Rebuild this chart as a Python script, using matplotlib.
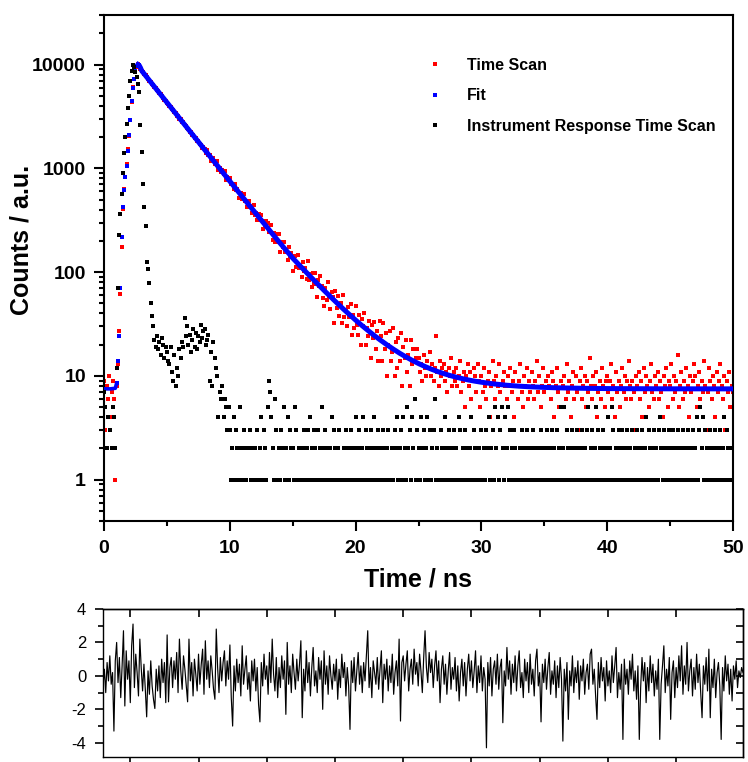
import numpy as np
import matplotlib
matplotlib.use("Agg")
import matplotlib.pyplot as plt
from matplotlib.lines import Line2D
from matplotlib.ticker import LogLocator, NullFormatter, MultipleLocator, FixedLocator, FixedFormatter

plt.rcParams['font.family'] = ['Liberation Sans', 'DejaVu Sans']
plt.rcParams['axes.unicode_minus'] = False

# ---------------- data ----------------
CHANNEL_NS = 0.1          # channel width of the decay histograms

time_scan_counts = [
    9, 3, 8, 6, 10, 4, 7, 9, 6, 1,
    8, 13, 27, 62, 175, 410, 630, 820, 1090, 1520,
    2060, 2950, 4380, 6050, 7250, 8750, 9550, 10050, 9700, 9150,
    8650, 8420, 8060, 7870, 7510, 7330, 6990, 6850, 6520, 6380,
    6080, 5950, 5660, 5540, 5290, 5180, 4920, 4810, 4570, 4500,
    4270, 4200, 3970, 3920, 3700, 3660, 3450, 3400, 3210, 3170,
    2990, 2960, 2790, 2770, 2600, 2580, 2420, 2400, 2250, 2240,
    2100, 2090, 1950, 1950, 1820, 1830, 1700, 1690, 1580, 1590,
    1527, 1398, 1498, 1336, 1354, 1173, 1230, 1246, 1107, 1095,
    1167, 966, 1018, 921, 969, 879, 942, 767, 831, 774,
    800, 701, 708, 630, 705, 623, 637, 521, 582, 580,
    504, 571, 479, 479, 420, 481, 426, 430, 375, 448,
    356, 372, 319, 360, 317, 353, 262, 310, 284, 312,
    298, 241, 245, 287, 204, 237, 197, 231, 196, 231,
    157, 196, 175, 193, 155, 164, 132, 175, 140, 152,
    102, 139, 143, 112, 147, 109, 114, 89, 124, 102,
    109, 85, 127, 84, 95, 72, 97, 77, 98, 57,
    84, 73, 91, 74, 56, 47, 70, 54, 81, 59,
    44, 64, 57, 32, 66, 45, 59, 38, 50, 32,
    60, 37, 43, 30, 46, 37, 49, 25, 39, 29,
    47, 31, 25, 39, 20, 35, 30, 40, 20, 29,
    24, 34, 15, 31, 23, 33, 18, 27, 14, 34,
    24, 14, 32, 18, 26, 10, 20, 27, 14, 17,
    29, 10, 21, 12, 23, 14, 26, 8, 19, 15,
    22, 11, 16, 8, 22, 13, 18, 6, 15, 18,
    15, 11, 13, 9, 16, 12, 10, 14, 12, 17,
    10, 13, 9, 12, 24, 11, 8, 14, 10, 12,
    13, 9, 11, 7, 12, 10, 15, 8, 11, 9,
    12, 8, 10, 14, 7, 9, 11, 5, 10, 13,
    8, 11, 6, 9, 12, 10, 7, 13, 9, 5,
    10, 7, 12, 8, 6, 9, 11, 4, 8, 14,
    9, 6, 10, 8, 13, 7, 5, 9, 11, 8,
    6, 10, 8, 12, 7, 9, 4, 11, 8, 6,
    9, 13, 7, 5, 10, 8, 12, 6, 9, 7,
    11, 8, 6, 9, 14, 7, 10, 5, 8, 12,
    7, 9, 3, 10, 8, 6, 11, 9, 4, 8,
    12, 7, 5, 9, 2, 8, 10, 6, 13, 7,
    9, 4, 8, 11, 6, 10, 7, 3, 9, 12,
    6, 8, 10, 5, 9, 7, 15, 8, 6, 10,
    8, 11, 4, 7, 9, 6, 12, 8, 5, 9,
    10, 7, 9, 13, 6, 8, 4, 11, 7, 9,
    5, 8, 12, 7, 10, 6, 9, 14, 8, 6,
    9, 7, 3, 10, 8, 11, 6, 9, 4, 12,
    7, 10, 8, 5, 9, 13, 7, 6, 10, 8,
    11, 6, 9, 7, 4, 10, 8, 12, 5, 9,
    8, 13, 6, 10, 7, 9, 16, 5, 8, 11,
    6, 9, 7, 12, 8, 4, 10, 7, 9, 13,
    10, 5, 8, 11, 6, 9, 7, 14, 8, 3,
    7, 12, 9, 6, 10, 8, 4, 11, 7, 9,
    13, 8, 6, 10, 3, 9, 7, 11, 5, 8,
    7,
]

irf_counts = [
    7, 5, 2, 4, 0, 3, 2, 5, 4, 2,
    12, 70, 230, 360, 560, 900, 1400, 2000, 2700, 3800,
    5000, 7000, 8700, 10000, 9400, 8500, 7500, 6500, 5400, 2600,
    1450, 700, 420, 280, 125, 108, 78, 50, 38, 30,
    22, 19, 24, 18, 21, 16, 23, 20, 15, 19,
    17, 14, 13, 19, 11, 9, 16, 8, 12, 10,
    18, 15, 21, 19, 36, 24, 30, 20, 25, 17,
    22, 28, 19, 26, 18, 24, 21, 31, 23, 27,
    28, 20, 22, 25, 9, 17, 8, 21, 15, 12,
    10, 4, 7, 6, 8, 4, 6, 5, 3, 5,
    3, 1, 2, 4, 1, 3, 2, 1, 5, 2,
    1, 3, 2, 1, 0, 2, 3, 1, 2, 1,
    2, 1, 3, 1, 2, 4, 1, 3, 2, 1,
    5, 9, 7, 4, 2, 1, 6, 3, 1, 2,
    1, 3, 2, 5, 1, 2, 4, 1, 3, 2,
    2, 1, 5, 3, 1, 2, 0, 1, 2, 3,
    1, 2, 3, 1, 4, 2, 1, 3, 2, 1,
    3, 1, 2, 5, 1, 2, 3, 1, 2, 1,
    2, 4, 1, 3, 2, 1, 2, 3, 1, 0,
    1, 2, 3, 1, 2, 1, 3, 2, 1, 2,
    4, 1, 2, 3, 1, 2, 4, 1, 3, 2,
    1, 2, 3, 1, 2, 4, 1, 2, 3, 1,
    2, 1, 3, 2, 1, 2, 3, 1, 0, 2,
    1, 3, 2, 4, 1, 2, 3, 1, 4, 2,
    1, 5, 2, 3, 1, 4, 2, 6, 1, 3,
    2, 1, 4, 2, 3, 1, 2, 4, 1, 3,
    1, 2, 3, 6, 1, 2, 0, 1, 3, 2,
    1, 4, 2, 1, 3, 2, 1, 2, 3, 1,
    2, 1, 4, 3, 1, 2, 1, 3, 2, 1,
    1, 2, 4, 1, 3, 2, 1, 0, 2, 1,
    3, 1, 2, 1, 3, 2, 4, 1, 2, 3,
    1, 5, 2, 4, 1, 3, 5, 2, 1, 4,
    2, 5, 1, 3, 2, 1, 3, 2, 1, 0,
    1, 2, 3, 1, 2, 1, 3, 2, 1, 2,
    1, 3, 2, 1, 0, 2, 1, 3, 2, 1,
    2, 1, 3, 2, 1, 2, 3, 1, 2, 1,
    3, 1, 2, 5, 1, 2, 5, 1, 3, 2,
    1, 2, 3, 1, 2, 1, 3, 2, 1, 2,
    3, 1, 2, 1, 3, 5, 1, 2, 3, 1,
    2, 5, 1, 3, 2, 1, 2, 3, 1, 2,
    1, 4, 2, 1, 5, 3, 1, 2, 1, 3,
    2, 1, 3, 2, 1, 2, 3, 1, 2, 1,
    3, 1, 2, 1, 3, 2, 1, 2, 3, 1,
    2, 4, 1, 3, 2, 1, 2, 3, 1, 2,
    1, 3, 4, 2, 1, 3, 2, 1, 2, 3,
    1, 2, 3, 1, 2, 1, 3, 2, 1, 2,
    3, 1, 2, 1, 3, 2, 1, 2, 3, 1,
    2, 4, 1, 3, 5, 2, 4, 1, 3, 2,
    1, 2, 3, 1, 2, 1, 3, 2, 1, 2,
    3, 1, 2, 4, 1, 3, 2, 1, 2, 1,
    2,
]

fit_time_ns = [
    0.0, 0.5, 0.9, 1.0, 1.1, 1.2, 1.3, 1.4, 1.5, 1.6, 1.7, 1.8, 1.9, 2.0,
    2.1, 2.2, 2.3, 2.4, 2.5, 2.6, 2.7, 2.8, 2.9, 3.0,
    3.5, 4.0, 4.5, 5.0, 5.5, 6.0, 6.5, 7.0, 7.5, 8.0, 8.5, 9.0, 9.5, 10.0,
    10.5, 11.0, 11.5, 12.0, 12.5, 13.0, 13.5, 14.0, 14.5, 15.0, 15.5, 16.0,
    16.5, 17.0, 17.5, 18.0, 18.5, 19.0, 19.5, 20.0, 20.5, 21.0, 21.5, 22.0,
    22.5, 23.0, 23.5, 24.0, 24.5, 25.0, 25.5, 26.0, 26.5, 27.0, 27.5, 28.0,
    28.5, 29.0, 29.5, 30.0, 31.0, 32.0, 33.0, 34.0, 35.0, 36.0, 38.0, 40.0,
    42.0, 45.0, 50.0,
]
fit_counts = [
    7.5, 7.5, 7.6, 8.5, 14, 24, 70, 220, 420, 620, 820, 1050, 1480, 2100,
    2900, 4500, 6000, 7300, 8700, 9600, 10000, 9800, 9300, 8698,
    7300, 6126, 5142, 4316, 3622, 3040, 2552, 2143, 1800, 1511, 1269, 1066, 895, 752,
    633, 532, 447, 377, 317, 267, 225, 190, 161, 136.5, 117.8, 101.9,
    88.2, 76.5, 66.5, 58.0, 50.7, 44.4, 39.1, 34.5, 30.6, 27.3, 24.4, 22.0,
    19.9, 18.1, 16.55, 15.24, 14.12, 13.16, 12.34, 11.64, 11.04, 10.53, 10.09, 9.72,
    9.40, 9.12, 8.89, 8.69, 8.37, 8.13, 7.96, 7.84, 7.75, 7.68, 7.6, 7.55,
    7.53, 7.51, 7.5,
]

RESID_START_NS = 3.0
residuals = [
    -0.6, 0.4, -1.0, 0.8, -0.3, 1.2, -0.5, 0.2, -3.3, 0.9,
    2.0, -0.4, 1.1, -1.3, 0.6, 2.7, -1.8, 1.5, -0.2, 0.9,
    -1.6, 1.8, 3.1, -0.7, 1.3, 0.2, -1.2, 2.2, 0.5, -0.9,
    0.7, -0.8, -2.45, 0.3, -1.1, 0.9, -0.6, -1.4, -1.95, 0.4,
    -0.9, 0.6, -1.3, 1.0, -0.4, 0.8, -1.6, 2.45, -1.55, 0.5,
    1.1, -0.7, 0.9, -0.2, 1.4, -1.0, 2.2, 0.3, -0.8, 1.2,
    0.4, -0.6, -1.55, 2.2, -0.3, 0.8, -1.2, 1.0, 0.1, -0.9,
    1.3, -0.5, 0.7, 1.6, -1.1, 2.1, -0.2, 0.9, -0.7, 1.2,
    0.3, -0.8, -1.4, 2.8, 0.5, -1.0, 1.1, -0.3, 0.8, 1.5,
    -0.6, 0.9, -0.2, 1.85, -1.3, -3.0, 0.6, -0.9, 1.0, -0.4,
    0.7, -1.2, 1.8, -0.5, 0.4, 1.2, -0.8, 0.2, -1.5, 0.9,
    -0.3, 1.0, -0.9, 0.5, -1.7, -2.75, 0.8, -0.6, 1.3, -0.2,
    0.6, -1.1, 1.4, -0.4, 2.2, 0.1, -0.9, 1.1, -1.3, 0.5,
    -0.7, 1.2, -0.2, 0.9, -2.3, 2.0, -0.5, 0.6, -1.0, 1.3,
    0.2, -0.8, 1.0, -0.3, 0.7, 2.1, -2.5, 0.4, -0.9, 1.5,
    -0.4, 0.8, -1.2, 0.5, 1.7, -0.6, 0.3, -1.0, 1.1, -0.2,
    0.9, -2.0, 1.5, -0.5, 0.6, -1.1, 1.2, 0.0, -0.8, 0.7,
    -0.3, 1.0, -1.4, 0.4, -0.7, 1.3, -0.1, 0.8, -1.2, 0.5,
    -0.6, -3.2, 0.9, -0.4, 1.1, -0.9, 0.3, 1.4, -0.5, 0.6,
    -1.0, 0.8, -0.3, 1.2, 2.7, -0.7, 0.5, -1.3, 0.9, 0.2,
    -0.5, 1.1, -0.8, 0.4, 1.5, -1.6, 0.7, -0.2, 1.0, -0.9,
    0.6, -0.4, 1.3, -1.1, 0.2, 0.9, -0.6, 2.2, -2.7, 0.8,
    1.2, -0.3, 0.7, 1.5, -0.9, 0.4, 1.0, -0.5, 1.6, 0.1,
    0.8, -0.6, 1.3, 0.3, -1.0, 1.1, 2.7, 0.5, -0.4, 1.4,
    0.2, 1.0, -0.7, 0.6, 1.5, -0.3, 0.9, -1.6, 0.4, 1.2,
    -0.5, 0.7, -1.1, 0.3, 1.4, -0.8, 0.5, -0.2, 1.1, -0.9,
    0.6, -1.5, 0.2, 1.0, -0.6, 0.8, -1.2, 0.4, 1.3, -0.3,
    0.9, -0.7, 0.3, 1.5, -1.0, 0.6, -0.4, 1.2, -0.9, 0.5,
    -0.2, -4.3, 0.8, -0.6, 1.1, -1.2, 0.4, 0.9, -0.5, 1.3,
    -0.8, 0.5, 1.0, -2.8, 0.3, -0.6, 1.7, -0.2, 0.9, -1.1,
    0.7, -0.4, 1.2, -0.9, 0.6, 1.5, -0.7, 0.2, -1.3, 1.0,
    -0.3, 0.8, -1.0, 1.3, -0.5, 0.4, -1.2, 0.9, 1.6, -0.6,
    0.2, -2.75, 0.7, -0.4, 1.0, -0.8, 0.5, 1.4, -1.1, 0.3,
    -0.5, 0.9, -1.3, 0.6, -0.7, 1.1, -0.2, -3.9, 0.4, -0.9,
    0.8, -2.6, 0.3, -0.6, 1.2, -1.0, 0.5, -0.4, 0.9, -1.4,
    0.6, -0.3, 1.0, -1.1, 0.2, 0.7, -0.8, 1.3, 1.6, -0.5,
    0.4, -1.2, -2.6, 0.8, -0.7, 1.1, -0.3, 0.5, -1.5, 0.9,
    -0.6, 0.3, -1.0, 1.2, -0.4, 0.6, 1.7, -1.3, 0.2, -0.8,
    0.7, -3.8, 1.0, -0.5, 0.4, -1.1, 0.9, -0.2, 1.3, -0.9,
    0.3, -1.4, 0.6, -3.8, -0.7, 1.1, -0.3, 0.8, -1.6, 0.5,
    -0.9, 1.2, -0.4, 0.7, -1.2, 0.3, -0.8, 1.0, -3.8, -0.5,
    0.6, 1.8, -1.0, 0.4, -0.6, 1.1, -2.6, 0.2, 0.9, -1.3,
    0.5, -0.7, 1.2, -0.3, 1.8, -1.1, 0.6, -0.5, 2.0, -0.9,
    0.3, 1.0, -1.2, 0.5, -0.8, 1.3, -0.4, 0.7, -1.0, -2.5,
    0.6, -0.5, 1.1, -0.9, 1.6, -2.5, 0.4, -0.7, 1.0, -1.3,
    0.2, 0.8, -0.6, -3.8, 0.5, -0.9, 1.2, -0.3, 0.7, -1.1,
    0.4, -1.5, 0.6, -0.2, 0.9, -0.7, 0.3, -0.1, 0.5, 0.2,
]

legend_labels = ["Time Scan", "Fit", "Instrument Response Time Scan"]
series_colors = ["#ff0000", "#0000ff", "#000000"]
x_ticks = [0, 10, 20, 30, 40, 50]
y_ticks = [1, 10, 100, 1000, 10000]
y_tick_labels = ["1", "10", "100", "1000", "10000"]
resid_y_ticks = [-4, -2, 0, 2, 4]

# ---------------- figure ----------------
W, H = 748, 762
fig = plt.figure(figsize=(W / 100, H / 100), dpi=100)
ax = fig.add_axes([104 / W, 1 - 521 / H, (733 - 104) / W, (521 - 15) / H])
ax2 = fig.add_axes([103 / W, 1 - 757 / H, (743 - 103) / W, (757 - 609) / H])

t_scan = np.arange(len(time_scan_counts)) * CHANNEL_NS
t_irf = np.arange(len(irf_counts)) * CHANNEL_NS
scan = np.asarray(time_scan_counts, dtype=float)
irf = np.asarray(irf_counts, dtype=float)
ft = np.asarray(fit_time_ns)
fc = np.asarray(fit_counts, dtype=float)

MS = 2.6
ax.plot(t_scan[scan > 0], scan[scan > 0], 's', color=series_colors[0], ms=MS, mew=0, zorder=2)
pre = ft <= 1.0
post = ft >= 2.7
rise = (ft >= 1.0) & (ft <= 2.8)
ax.plot(ft[pre], fc[pre], '-', color=series_colors[1], lw=2.6, zorder=3, solid_capstyle='butt')
ax.plot(ft[post], fc[post], '-', color=series_colors[1], lw=3.6, zorder=3)
ax.plot(ft[rise], fc[rise], 's', color=series_colors[1], ms=MS, mew=0, zorder=3)
ax.plot(t_irf[irf > 0], irf[irf > 0], 's', color=series_colors[2], ms=MS, mew=0, zorder=4)

ax.set_yscale('log')
ax.set_xlim(0, 50)
ax.set_ylim(0.4, 30000)
ax.set_xticks(x_ticks)
ax.xaxis.set_minor_locator(MultipleLocator(5))
ax.yaxis.set_major_locator(FixedLocator(y_ticks))
ax.yaxis.set_major_formatter(FixedFormatter(y_tick_labels))
ax.yaxis.set_minor_locator(LogLocator(base=10, subs=np.arange(2, 10), numticks=20))
ax.yaxis.set_minor_formatter(NullFormatter())

for s in ax.spines.values():
    s.set_linewidth(1.5)
ax.tick_params(which='major', direction='out', length=7, width=1.5, pad=6)
ax.tick_params(which='minor', direction='out', length=3.8, width=1.5)
ax.tick_params(axis='x', which='major', pad=7)
for lab in ax.get_xticklabels() + ax.get_yticklabels():
    lab.set_fontsize(14)
    lab.set_fontweight('bold')

ax.set_xlabel('Time / ns', fontsize=18, fontweight='bold')
ax.set_ylabel('Counts / a.u.', fontsize=18, fontweight='bold')
ax.xaxis.set_label_coords(0.5, -0.092)
ax.yaxis.set_label_coords(-0.112, 0.555)

handles = [Line2D([], [], ls='none', marker='s', ms=MS, mew=0, color=c) for c in series_colors]
ax.legend(handles, legend_labels, loc='upper left', bbox_to_anchor=(427 / W, 1 - 58 / H),
          bbox_transform=fig.transFigure, frameon=False, borderpad=0, borderaxespad=0,
          handlelength=1.0, handletextpad=1.5, labelspacing=0.97,
          prop={'weight': 'bold', 'size': 11.5})

# ---------------- residual panel ----------------
t_res = RESID_START_NS + np.arange(len(residuals)) * CHANNEL_NS
ax2.plot(t_res, residuals, '-', color='black', lw=0.85)
ax2.set_xlim(3.0, 49.9)
ax2.set_ylim(-4.85, 4.0)
ax2.xaxis.set_major_locator(MultipleLocator(5))
ax2.set_yticks(resid_y_ticks)
ax2.yaxis.set_minor_locator(MultipleLocator(1))
for s in ax2.spines.values():
    s.set_linewidth(1.0)
ax2.tick_params(axis='x', which='major', direction='out', length=6, width=1.2,
                labelbottom=False)
ax2.tick_params(axis='y', which='major', direction='out', length=6, width=1.2, pad=6,
                labelsize=12)
ax2.tick_params(axis='y', which='minor', direction='out', length=3.5, width=1.2)
ax2t = ax2.secondary_xaxis('top')
ax2t.xaxis.set_major_locator(MultipleLocator(5))
ax2t.tick_params(which='both', direction='in', length=6, width=1.2, labeltop=False)
ax2t.spines['top'].set_linewidth(1.0)
ax2r = ax2.secondary_yaxis('right')
ax2r.set_yticks(resid_y_ticks)
ax2r.yaxis.set_minor_locator(MultipleLocator(1))
ax2r.tick_params(which='both', direction='in', length=5, width=1.2, labelright=False)
ax2r.spines['right'].set_linewidth(1.0)

fig.savefig('out.png', dpi=100)
